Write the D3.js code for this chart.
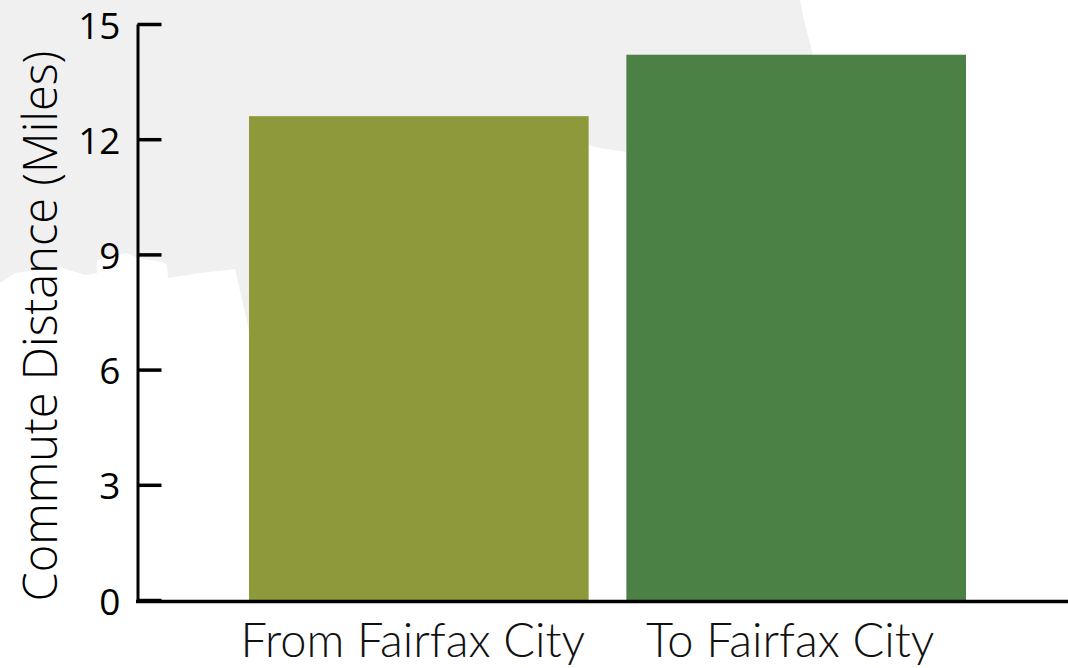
<!DOCTYPE html>
<html>
<head>
<meta charset="utf-8">
<script src="https://cdn.jsdelivr.net/npm/d3@7"></script>
<style>
  html, body { margin: 0; padding: 0; background: #ffffff; }
  svg { display: block; }
  .y-tick text { font-family: "Open Sans", "Noto Sans", sans-serif; font-size: 37px; fill: #000; }
  .y-title { font-family: "Open Sans", "Noto Sans", sans-serif; font-weight: 300; font-size: 47px; fill: #000; }
  .x-label { font-family: "Lato", "Roboto", sans-serif; font-weight: 300; font-size: 47px; fill: #111; }
</style>
</head>
<body>
<svg id="chart" width="1068" height="668"></svg>
<script>
// Average commute distance, in miles
const categories = ["From Fairfax City", "To Fairfax City"];
const distances = [12.6, 14.2];
const barColors = ["#8d993a", "#4b8144"];
const yTicks = [0, 3, 6, 9, 12, 15];
const yTitle = "Commute Distance (Miles)";

// Outline of the pale map silhouette behind the plot
const backdropOutline = [
  [0, 0], [800, 0], [804, 20], [813, 55], [820, 300], [640, 400],
  [626, 152], [600, 148], [589, 145], [450, 400], [250, 335],
  [235, 269], [200, 273], [168, 278], [167, 265], [163, 262],
  [138, 258], [127, 253], [97, 260], [97, 273], [85, 275],
  [60, 267], [15, 273], [0, 283]
];

const W = 1068, H = 668;
const plot = { left: 136, right: 1068, top: 24, bottom: 600 };

const svg = d3.select("#chart");

svg.append("path")
  .attr("d", d3.line()(backdropOutline) + "Z")
  .attr("fill", "#f0f0f0");

const x = d3.scaleBand()
  .domain(categories)
  .range([249, 966])
  .paddingInner(0.1)
  .paddingOuter(0);

const y = d3.scaleLinear()
  .domain([0, 15])
  .range([plot.bottom, plot.top]);

// Bars
svg.append("g")
  .selectAll("rect")
  .data(categories)
  .join("rect")
  .attr("x", d => x(d))
  .attr("width", x.bandwidth())
  .attr("y", (d, i) => y(distances[i]))
  .attr("height", (d, i) => y(0) - y(distances[i]))
  .attr("fill", (d, i) => barColors[i]);

// Y axis with inward-pointing ticks
const yAxis = d3.axisLeft(y)
  .tickValues(yTicks)
  .tickFormat(d3.format("d"))
  .tickSizeInner(-24)
  .tickSizeOuter(0)
  .tickPadding(17);

const yg = svg.append("g")
  .attr("class", "y-tick")
  .attr("transform", `translate(${plot.left + 1.5},0)`)
  .call(yAxis);
yg.select(".domain").attr("stroke", "#000").attr("stroke-width", 3);
yg.selectAll(".tick line").attr("stroke", "#000").attr("stroke-width", 3.5);
yg.selectAll(".tick text").attr("dy", "0.38em");

// X axis baseline
svg.append("line")
  .attr("x1", plot.left)
  .attr("x2", W)
  .attr("y1", plot.bottom + 1.5)
  .attr("y2", plot.bottom + 1.5)
  .attr("stroke", "#000")
  .attr("stroke-width", 3.5);

// Category labels
svg.append("g")
  .selectAll("text")
  .data(categories)
  .join("text")
  .attr("class", "x-label")
  .attr("x", d => x(d) + x.bandwidth() / 2 - 6)
  .attr("y", 657)
  .attr("text-anchor", "middle")
  .text(d => d);

// Y axis title
svg.append("text")
  .attr("class", "y-title")
  .attr("transform", "translate(57,326) rotate(-90)")
  .attr("text-anchor", "middle")
  .text(yTitle);
</script>
</body>
</html>
